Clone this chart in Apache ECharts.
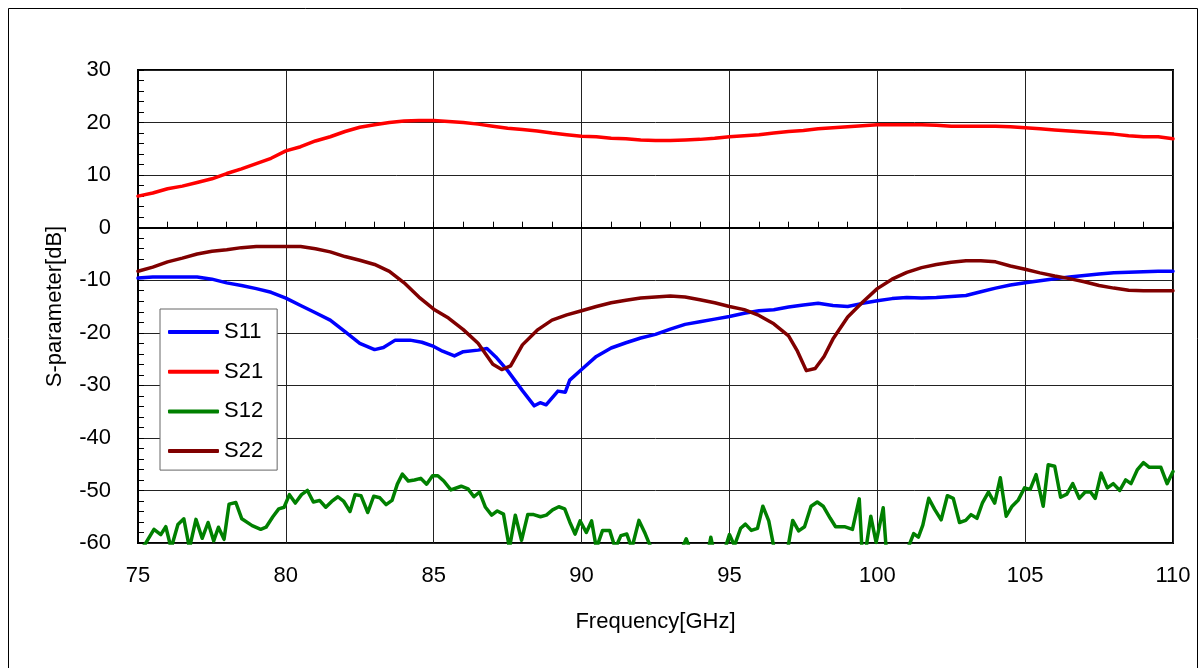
<!DOCTYPE html>
<html>
<head>
<meta charset="utf-8">
<script src="https://cdn.jsdelivr.net/npm/echarts@6/dist/echarts.min.js"></script>
<style>
html,body{margin:0;padding:0;background:#fff;}
#chart{width:1198px;height:668px;}
</style>
</head>
<body>
<div id="chart"></div>
<script>
// ---- data ----
const seriesNames = ['S11', 'S21', 'S12', 'S22'];
const xTicks = [75, 80, 85, 90, 95, 100, 105, 110];
const yTicks = [-60, -50, -40, -30, -20, -10, 0, 10, 20, 30];

const freqS11 = [75, 75.5, 76, 76.5, 77, 77.5, 78, 78.5, 79, 79.5, 80, 80.5, 81, 81.5, 82, 82.5, 83, 83.3, 83.7, 84.2, 84.6, 85, 85.3, 85.7, 86, 86.5, 86.8, 87.1, 87.5, 88, 88.4, 88.6, 88.8, 89.2, 89.45, 89.6, 90, 90.5, 91, 91.5, 92, 92.5, 93, 93.5, 94, 94.5, 95, 95.5, 96, 96.5, 97, 97.5, 98, 98.5, 99, 99.5, 100, 100.5, 101, 101.5, 102, 102.5, 103, 103.5, 104, 104.5, 105, 105.5, 106, 106.5, 107, 107.5, 108, 108.5, 109, 109.5, 110];
const S11 = [-9.6, -9.4, -9.4, -9.4, -9.4, -9.8, -10.5, -11.0, -11.6, -12.3, -13.4, -14.8, -16.2, -17.6, -19.8, -22.0, -23.2, -22.8, -21.4, -21.4, -21.8, -22.6, -23.5, -24.4, -23.6, -23.3, -23.0, -24.6, -27.2, -31.0, -33.9, -33.3, -33.7, -31.1, -31.3, -29.0, -27.0, -24.5, -22.9, -21.9, -21.0, -20.3, -19.3, -18.4, -17.9, -17.4, -16.9, -16.3, -15.8, -15.6, -15.1, -14.7, -14.4, -14.8, -15.0, -14.4, -13.9, -13.5, -13.3, -13.4, -13.3, -13.1, -12.9, -12.2, -11.5, -10.9, -10.5, -10.1, -9.7, -9.4, -9.1, -8.8, -8.6, -8.5, -8.4, -8.3, -8.3];

const freqS21 = [75, 75.5, 76, 76.5, 77, 77.5, 78, 78.5, 79, 79.5, 80, 80.5, 81, 81.5, 82, 82.5, 83, 83.5, 84, 84.5, 85, 85.5, 86, 86.5, 87, 87.5, 88, 88.5, 89, 89.5, 90, 90.5, 91, 91.5, 92, 92.5, 93, 93.5, 94, 94.5, 95, 95.5, 96, 96.5, 97, 97.5, 98, 98.5, 99, 99.5, 100, 100.5, 101, 101.5, 102, 102.5, 103, 103.5, 104, 104.5, 105, 105.5, 106, 106.5, 107, 107.5, 108, 108.5, 109, 109.5, 110];
const S21 = [6.0, 6.6, 7.4, 7.9, 8.6, 9.3, 10.3, 11.2, 12.2, 13.2, 14.6, 15.4, 16.5, 17.3, 18.3, 19.1, 19.6, 20.0, 20.3, 20.4, 20.4, 20.2, 20.0, 19.7, 19.3, 18.9, 18.7, 18.4, 18.0, 17.7, 17.4, 17.3, 17.0, 16.9, 16.7, 16.6, 16.6, 16.7, 16.8, 17.0, 17.3, 17.5, 17.7, 18.0, 18.3, 18.5, 18.8, 19.0, 19.2, 19.4, 19.6, 19.6, 19.6, 19.6, 19.5, 19.3, 19.3, 19.3, 19.3, 19.2, 19.0, 18.8, 18.6, 18.4, 18.2, 18.0, 17.8, 17.5, 17.3, 17.3, 16.9];

const freqS12 = [75.0, 75.24, 75.54, 75.77, 75.94, 76.12, 76.35, 76.55, 76.74, 76.96, 77.17, 77.37, 77.56, 77.72, 77.91, 78.08, 78.31, 78.51, 78.86, 79.15, 79.33, 79.56, 79.76, 79.94, 80.12, 80.32, 80.53, 80.73, 80.93, 81.14, 81.35, 81.55, 81.76, 81.96, 82.17, 82.34, 82.54, 82.77, 82.97, 83.18, 83.39, 83.59, 83.77, 83.94, 84.14, 84.35, 84.56, 84.76, 84.96, 85.14, 85.34, 85.58, 85.93, 86.16, 86.36, 86.55, 86.75, 86.96, 87.15, 87.36, 87.56, 87.76, 87.97, 88.18, 88.38, 88.61, 88.81, 89.02, 89.23, 89.43, 89.60, 89.78, 89.95, 90.16, 90.34, 90.50, 90.71, 90.95, 91.14, 91.33, 91.53, 91.70, 91.94, 92.15, 92.5, 93.0, 93.4, 93.54, 93.65, 94.0, 94.3, 94.37, 94.45, 94.8, 95.0, 95.17, 95.38, 95.54, 95.74, 95.95, 96.13, 96.33, 96.51, 96.75, 96.99, 97.14, 97.34, 97.54, 97.76, 97.97, 98.17, 98.41, 98.59, 98.89, 99.16, 99.39, 99.48, 99.62, 99.78, 99.96, 100.2, 100.3, 100.6, 101.0, 101.23, 101.39, 101.54, 101.74, 101.94, 102.16, 102.37, 102.57, 102.78, 102.99, 103.17, 103.37, 103.56, 103.76, 103.97, 104.16, 104.36, 104.56, 104.77, 104.98, 105.17, 105.37, 105.61, 105.78, 106.0, 106.2, 106.41, 106.61, 106.83, 107.03, 107.21, 107.37, 107.57, 107.78, 107.98, 108.2, 108.4, 108.58, 108.79, 109.0, 109.2, 109.59, 109.8, 110.0];
const S12 = [-62, -60.2, -57.4, -58.4, -56.9, -61, -56.5, -55.4, -61, -55.5, -59.1, -56.1, -59.6, -57.0, -59.3, -52.6, -52.3, -55.4, -56.7, -57.4, -57.0, -55.0, -53.5, -53.2, -50.8, -52.4, -50.8, -50.0, -52.2, -51.9, -53.2, -52.1, -51.2, -52.1, -54.0, -50.8, -51.0, -54.2, -51.1, -51.4, -52.7, -51.9, -48.8, -46.9, -48.2, -48.0, -47.7, -48.8, -47.2, -47.2, -48.2, -49.9, -49.2, -49.7, -51.2, -50.3, -53.2, -54.7, -53.9, -54.5, -61, -54.7, -59.5, -54.6, -54.6, -55.0, -54.7, -53.7, -53.1, -53.5, -56.0, -58.3, -55.8, -58.0, -55.8, -61, -57.6, -57.6, -61, -58.6, -58.3, -61, -55.7, -58.2, -63, -63, -61, -59.2, -61, -63, -61, -58.9, -61, -62, -58.4, -60.5, -57.2, -56.4, -57.6, -57.2, -53.0, -55.8, -61, -63, -60.5, -55.7, -57.7, -56.9, -53.0, -52.2, -53.0, -55.3, -56.9, -56.9, -57.4, -51.6, -61, -61, -54.9, -59.9, -53.3, -61, -63, -61.5, -58.2, -58.9, -56.6, -51.5, -53.6, -55.6, -51.0, -51.5, -56.1, -55.7, -54.6, -55.3, -52.3, -50.3, -52.4, -47.6, -54.9, -53.0, -51.8, -49.5, -49.8, -47.0, -53.0, -45.1, -45.4, -51.3, -50.7, -48.7, -51.5, -50.3, -50.3, -51.5, -46.7, -49.5, -48.7, -50.0, -48.0, -48.7, -46.1, -44.7, -45.6, -45.6, -48.7, -46.4];

const freqS22 = [75, 75.5, 76, 76.5, 77, 77.5, 78, 78.5, 79, 79.5, 80, 80.5, 81, 81.5, 82, 82.5, 83, 83.5, 84, 84.5, 85, 85.5, 86, 86.5, 87, 87.3, 87.6, 88, 88.5, 89, 89.5, 90, 90.5, 91, 91.5, 92, 92.5, 93, 93.5, 94, 94.5, 95, 95.5, 96, 96.5, 97, 97.3, 97.6, 97.9, 98.2, 98.5, 99, 99.5, 100, 100.5, 101, 101.5, 102, 102.5, 103, 103.5, 104, 104.5, 105, 105.5, 106, 106.5, 107, 107.5, 108, 108.5, 109, 110];
const S22 = [-8.3, -7.5, -6.5, -5.8, -5.0, -4.5, -4.2, -3.8, -3.6, -3.6, -3.6, -3.6, -4.0, -4.6, -5.5, -6.2, -7.0, -8.3, -10.5, -13.2, -15.5, -17.2, -19.4, -22.0, -26.0, -27.0, -26.3, -22.3, -19.5, -17.6, -16.6, -15.8, -15.0, -14.3, -13.8, -13.4, -13.2, -13.0, -13.2, -13.7, -14.3, -15.0, -15.6, -16.7, -18.3, -20.6, -23.5, -27.2, -26.8, -24.5, -21.2, -17.0, -14.2, -11.6, -9.8, -8.5, -7.6, -7.0, -6.6, -6.3, -6.3, -6.5, -7.3, -7.9, -8.6, -9.2, -9.7, -10.3, -11.0, -11.5, -11.9, -12.0, -12.0];

const colors = ['#0000FF', '#FF0000', '#008000', '#800000'];

// ---- build chart ----
const pair = (f, v) => f.map((x, i) => [x, v[i]]);
const allData = [pair(freqS11, S11), pair(freqS21, S21), pair(freqS12, S12), pair(freqS22, S22)];
const FONT = '"Liberation Sans", Arial, sans-serif';

const chart = echarts.init(document.getElementById('chart'), null, {renderer: 'canvas'});
chart.setOption({
  animation: false,
  backgroundColor: '#fff',
  textStyle: {fontFamily: FONT, color: '#000'},
  graphic: [{
    type: 'rect', left: 6, top: 6, z: 100, silent: true,
    shape: {width: 1189, height: 700},
    style: {fill: 'none', stroke: '#000', lineWidth: 1}
  }],
  grid: {
    left: 138, top: 70, right: 25, bottom: 125,
    show: true, borderColor: '#000', borderWidth: 2, backgroundColor: 'transparent'
  },
  legend: {
    orient: 'vertical', left: 160, top: 309,
    data: seriesNames,
    icon: 'roundRect',
    backgroundColor: '#fff', borderColor: '#666', borderWidth: 1,
    padding: [12, 14, 8, 8],
    itemWidth: 51, itemHeight: 4, itemGap: 17.7,
    textStyle: {fontFamily: FONT, fontSize: 22, color: '#000', lineHeight: 22}
  },
  xAxis: {
    type: 'value', min: xTicks[0], max: xTicks[xTicks.length - 1], interval: 5,
    name: 'Frequency[GHz]', nameLocation: 'middle', nameGap: 68,
    nameTextStyle: {fontFamily: FONT, fontSize: 22, color: '#000'},
    axisLine: {show: true, lineStyle: {color: '#000', width: 2}},
    axisTick: {show: true, inside: true, length: 6, lineStyle: {color: '#000'}},
    minorTick: {show: true, splitNumber: 5, length: 6, lineStyle: {color: '#000'}},
    axisLabel: {fontFamily: FONT, fontSize: 22, color: '#000', margin: 22},
    splitLine: {show: true, lineStyle: {color: '#222', width: 1}}
  },
  yAxis: {
    type: 'value', min: yTicks[0], max: yTicks[yTicks.length - 1], interval: 10,
    name: 'S-parameter[dB]', nameLocation: 'middle', nameGap: 72,
    nameTextStyle: {fontFamily: FONT, fontSize: 22, color: '#000'},
    axisLine: {show: true, lineStyle: {color: '#000', width: 2}},
    axisTick: {show: true, inside: true, length: 6, lineStyle: {color: '#000'}},
    minorTick: {show: true, splitNumber: 5, length: 6, lineStyle: {color: '#000'}},
    axisLabel: {fontFamily: FONT, fontSize: 22, color: '#000', margin: 27},
    splitLine: {show: true, lineStyle: {color: '#222', width: 1}}
  },
  series: seriesNames.map((n, i) => ({
    name: n, type: 'line', data: allData[i],
    symbol: 'none', clip: true,
    color: colors[i],
    itemStyle: {color: colors[i]},
    lineStyle: {color: colors[i], width: 3.5, join: 'round', cap: 'round'},
    z: 3 + i
  }))
});
</script>
</body>
</html>
